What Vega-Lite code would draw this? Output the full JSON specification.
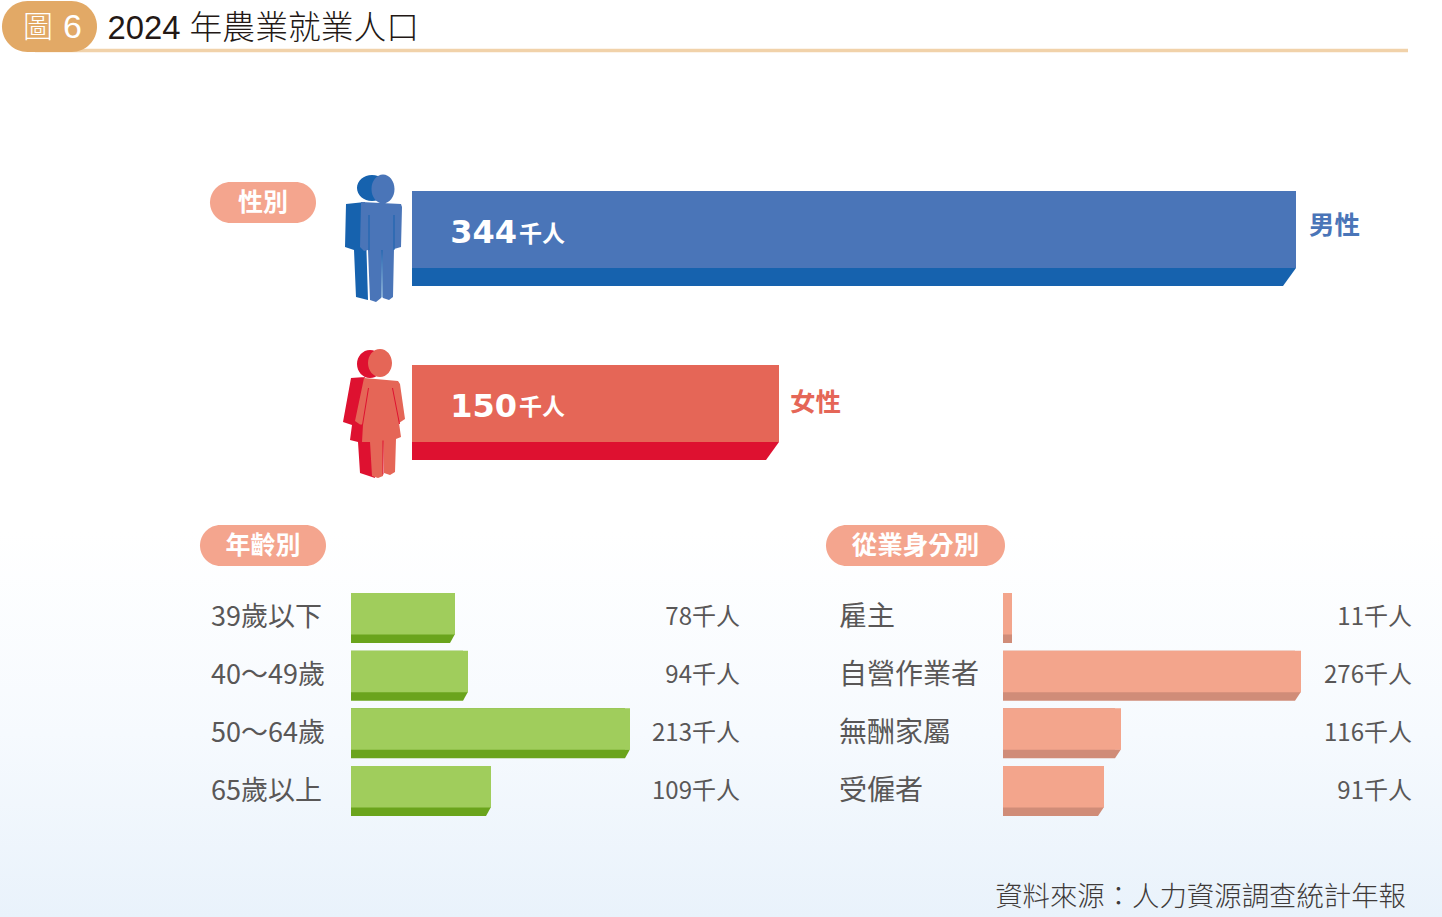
{
"$schema":"https://vega.github.io/schema/vega-lite/v6.json",
"width":1442,"height":917,"padding":0,"autosize":{"type":"none"},"background":"white",
"view":{"stroke":null,"fill":{"gradient":"linear","x1":0,"y1":0,"x2":0,"y2":1,"stops":[{"offset":0,"color":"#ffffff"},{"offset":0.58,"color":"#ffffff"},{"offset":0.8,"color":"#f6fafe"},{"offset":1,"color":"#e9f2fb"}]}},
"config":{"axis":{"disable":true},"text":{"font":"Noto Sans CJK TC","baseline":"middle"}},
"datasets":{
"gender":[{"category":"男性","value":344,"unit":"千人","heading":"性別"},{"category":"女性","value":150,"unit":"千人"}],
"age":[{"category":"39歲以下","value":78,"label":"78千人","heading":"年齡別"},{"category":"40～49歲","value":94,"label":"94千人"},{"category":"50～64歲","value":213,"label":"213千人"},{"category":"65歲以上","value":109,"label":"109千人"}],
"status":[{"category":"雇主","value":11,"label":"11千人","heading":"從業身分別"},{"category":"自營作業者","value":276,"label":"276千人"},{"category":"無酬家屬","value":116,"label":"116千人"},{"category":"受僱者","value":91,"label":"91千人"}]
},
"resolve":{"scale":{"x":"independent","y":"independent"}},
"layer":[
{"data":{"values":[{"title":"2024 年農業就業人口","tag":"圖","no":"6","source":"資料來源\uFF1A人力資源調查統計年報"}]},
 "encoding":{"x":{"datum":0,"type":"quantitative","scale":{"domain":[0,1],"range":[0,1442]}},"y":{"datum":0,"type":"quantitative","scale":{"domain":[0,1],"range":[0,917]}}},
 "layer":[
  {"mark":{"type":"rule","color":"#f1d2aa","strokeWidth":3.5,"xOffset":35,"x2Offset":-34,"yOffset":50.5},"encoding":{"x2":{"datum":1}}},
  {"mark":{"type":"point","filled":true,"opacity":1,"size":4,"strokeWidth":0,"color":"#e2a966","shape":"M27.5,1 L71.5,1 A25.5,25.5 0 0 1 71.5,52 L27.5,52 A25.5,25.5 0 0 1 27.5,1 Z"}},
  {"mark":{"type":"text","align":"left","dx":23,"dy":28,"fontSize":30,"fontWeight":300,"color":"#ffffff"},"encoding":{"text":{"field":"tag"}}},
  {"mark":{"type":"text","align":"left","dx":63,"dy":28,"fontSize":34,"font":"Liberation Sans","color":"#ffffff"},"encoding":{"text":{"field":"no"}}},
  {"mark":{"type":"text","align":"left","dx":107.5,"dy":29,"fontSize":32.8,"fontWeight":300,"font":"Liberation Sans, Noto Sans CJK TC","color":"#231815"},"encoding":{"text":{"field":"title"}}},
  {"mark":{"type":"text","align":"right","dx":1406,"dy":898,"fontSize":27.4,"fontWeight":300,"color":"#3e3a39"},"encoding":{"text":{"field":"source"}}}
 ]},
{"data":{"name":"gender"},
 "encoding":{"x":{"field":"value","type":"quantitative","scale":{"domain":[0,150,344],"range":[412,779,1296]}},"y":{"field":"category","type":"nominal","scale":{"domain":["男性","女性"],"range":[191,460],"paddingInner":0.454,"paddingOuter":0}}},
 "layer":[
  {"transform":[{"filter":"datum.category==='男性'"}],"mark":{"type":"bar","color":"#1662ae","xOffset":-13,"x2Offset":0.01},"encoding":{"x2":{"datum":0}}},
  {"transform":[{"filter":"datum.category==='男性'"}],"mark":{"type":"point","filled":true,"opacity":1,"size":4,"strokeWidth":0,"color":"#1662ae","shape":"M0,29.5 L-13,47.5 L-13,29.5 Z"}},
  {"transform":[{"filter":"datum.category==='男性'"}],"mark":{"type":"bar","color":"#4a75b8","height":77,"yOffset":-9}},
  {"transform":[{"filter":"datum.category==='女性'"}],"mark":{"type":"bar","color":"#de1130","xOffset":-13,"x2Offset":0.01},"encoding":{"x2":{"datum":0}}},
  {"transform":[{"filter":"datum.category==='女性'"}],"mark":{"type":"point","filled":true,"opacity":1,"size":4,"strokeWidth":0,"color":"#de1130","shape":"M0,29.5 L-13,47.5 L-13,29.5 Z"}},
  {"transform":[{"filter":"datum.category==='女性'"}],"mark":{"type":"bar","color":"#e56657","height":77,"yOffset":-9}},
  {"mark":{"type":"text","align":"right","dx":105,"dy":-5.5,"fontSize":32,"font":"DejaVu Sans","fontWeight":"bold","color":"#ffffff"},"encoding":{"x":{"datum":0},"text":{"field":"value","type":"quantitative"}}},
  {"mark":{"type":"text","align":"right","dx":153,"dy":-4,"fontSize":23,"fontWeight":"bold","color":"#ffffff"},"encoding":{"x":{"datum":0},"text":{"field":"unit"}}},
  {"transform":[{"filter":"datum.category==='男性'"}],"mark":{"type":"text","align":"left","dx":13,"dy":-12.5,"fontSize":25.5,"fontWeight":"bold","color":"#4a75b8"},"encoding":{"text":{"field":"category"}}},
  {"transform":[{"filter":"datum.category==='女性'"}],"mark":{"type":"text","align":"left","dx":11,"dy":-9.5,"fontSize":25.5,"fontWeight":"bold","color":"#e56657"},"encoding":{"text":{"field":"category"}}},
  {"transform":[{"filter":"datum.category==='男性'"}],"mark":{"type":"point","filled":true,"opacity":1,"size":4,"strokeWidth":0,"color":"#1662ae","shape":"M-55,-50.5 A15,13 0 1 1 -25,-50.5 A15,13 0 1 1 -55,-50.5 Z M-66,-34.5 L-47,-36.5 L-44,61.5 L-56,58.5 L-58,11.5 L-67,8.5 Z"},"encoding":{"x":{"datum":0}}},
  {"transform":[{"filter":"datum.category==='男性'"}],"mark":{"type":"point","filled":true,"opacity":1,"size":4,"strokeWidth":0,"color":"#4a75b8","shape":"M-40.5,-49.5 A11.5,14.5 0 1 1 -17.5,-49.5 A11.5,14.5 0 1 1 -40.5,-49.5 Z M-51,-36.5 L-11,-34.5 L-10,-31.5 L-11,8.5 L-18,10.5 L-19,58.5 L-23,61.5 L-29,59.5 L-30,11.5 L-31,59.5 L-36,63.5 L-42,61.5 L-44,11.5 L-48,12.5 L-52,8.5 Z"},"encoding":{"x":{"datum":0}}},
  {"transform":[{"filter":"datum.category==='男性'"}],"mark":{"type":"point","filled":true,"opacity":1,"size":4,"strokeWidth":0,"color":"#1662ae","shape":"M-43.5,-23.5 L-42.5,-23.5 L-42.5,11.5 L-43.5,11.5 Z M-18.5,-23.5 L-17.5,-23.5 L-17.5,11.5 L-18.5,11.5 Z M-30.5,11.5 L-29.5,11.5 L-29.5,59 L-30.5,59 Z"},"encoding":{"x":{"datum":0}}},
  {"transform":[{"filter":"datum.category==='女性'"}],"mark":{"type":"point","filled":true,"opacity":1,"size":4,"strokeWidth":0,"color":"#de1130","shape":"M-55,-48.5 A13,14 0 1 1 -29,-48.5 A13,14 0 1 1 -55,-48.5 Z M-61,-34.5 L-47,-35.5 L-37,65.5 L-52,60.5 L-54,29.5 L-62,27.5 L-60,12.5 L-69,9.5 Z"},"encoding":{"x":{"datum":0}}},
  {"transform":[{"filter":"datum.category==='女性'"}],"mark":{"type":"point","filled":true,"opacity":1,"size":4,"strokeWidth":0,"color":"#e56657","shape":"M-44,-49.5 A12,14 0 1 1 -20,-49.5 A12,14 0 1 1 -44,-49.5 Z M-48,-34.5 L-14,-31.5 L-12,-28.5 L-7,6.5 L-13,10.5 L-11,24.5 L-16,26.5 L-17,59.5 L-22,62.5 L-28,60.5 L-29,28.5 L-29,63.5 L-34,65.5 L-40,63.5 L-42,29.5 L-50,29.5 L-49,12 L-52,12 L-57,8.5 Z"},"encoding":{"x":{"datum":0}}},
  {"transform":[{"filter":"datum.category==='女性'"}],"mark":{"type":"point","filled":true,"opacity":1,"size":4,"strokeWidth":0,"color":"#de1130","shape":"M-44,-24.5 L-43,-24.5 L-49,12.5 L-50,12.5 Z M-20,-24.5 L-19,-24.5 L-12,11.5 L-13,11.5 Z M-29.5,28 L-28.5,28 L-28.5,62 L-29.5,62 Z"},"encoding":{"x":{"datum":0}}},
  {"transform":[{"filter":"isValid(datum.heading)"}],"mark":{"type":"point","filled":true,"opacity":1,"size":4,"strokeWidth":0,"color":"#f4a58e","shape":"M-181.5,-56.5 L-116.5,-56.5 A20.5,20.5 0 0 1 -116.5,-15.5 L-181.5,-15.5 A20.5,20.5 0 0 1 -181.5,-56.5 Z"},"encoding":{"x":{"datum":0}}},
  {"transform":[{"filter":"isValid(datum.heading)"}],"mark":{"type":"text","align":"center","dx":-149,"dy":-35.5,"fontSize":25,"fontWeight":"bold","color":"#ffffff"},"encoding":{"x":{"datum":0},"text":{"field":"heading"}}}
 ]},
{"data":{"name":"age"},
 "encoding":{"x":{"field":"value","type":"quantitative","scale":{"domain":[0,78,94,109,213],"range":[351,455,468,491,630]}},"y":{"field":"category","type":"nominal","scale":{"domain":["39歲以下","40～49歲","50～64歲","65歲以上"],"range":[593,816],"paddingInner":0.133,"paddingOuter":0}}},
 "layer":[
  {"mark":{"type":"bar","color":"#6aa41c","xOffset":-5,"x2Offset":0.01},"encoding":{"x2":{"datum":0}}},
  {"mark":{"type":"point","filled":true,"opacity":1,"size":4,"strokeWidth":0,"color":"#6aa41c","shape":"M0,16 L-5,25 L-5,16 Z"}},
  {"mark":{"type":"bar","color":"#a0cd5c","height":41.5,"yOffset":-4.25}},
  {"mark":{"type":"text","align":"left","dx":-140,"dy":0.5,"fontSize":27,"color":"#595757"},"encoding":{"x":{"datum":0},"text":{"field":"category"}}},
  {"mark":{"type":"text","align":"right","dx":389,"dy":0.5,"fontSize":24,"color":"#595757"},"encoding":{"x":{"datum":0},"text":{"field":"label"}}},
  {"transform":[{"filter":"isValid(datum.heading)"}],"mark":{"type":"point","filled":true,"opacity":1,"size":4,"strokeWidth":0,"color":"#f4a58e","shape":"M-130.5,-93 L-45.5,-93 A20.5,20.5 0 0 1 -45.5,-52 L-130.5,-52 A20.5,20.5 0 0 1 -130.5,-93 Z"},"encoding":{"x":{"datum":0}}},
  {"transform":[{"filter":"isValid(datum.heading)"}],"mark":{"type":"text","align":"center","dx":-88,"dy":-71.5,"fontSize":25,"fontWeight":"bold","color":"#ffffff"},"encoding":{"x":{"datum":0},"text":{"field":"heading"}}}
 ]},
{"data":{"name":"status"},
 "encoding":{"x":{"field":"value","type":"quantitative","scale":{"domain":[0,11,91,116,276],"range":[1003,1012,1104,1121,1301]}},"y":{"field":"category","type":"nominal","scale":{"domain":["雇主","自營作業者","無酬家屬","受僱者"],"range":[593,816],"paddingInner":0.133,"paddingOuter":0}}},
 "layer":[
  {"transform":[{"filter":"datum.value>11"}],"mark":{"type":"bar","color":"#d08c78","xOffset":-6,"x2Offset":0.01},"encoding":{"x2":{"datum":0}}},
  {"transform":[{"filter":"datum.value>11"}],"mark":{"type":"point","filled":true,"opacity":1,"size":4,"strokeWidth":0,"color":"#d08c78","shape":"M0,16 L-6,25 L-6,16 Z"}},
  {"transform":[{"filter":"datum.value<=11"}],"mark":{"type":"bar","color":"#d08c78"}},
  {"mark":{"type":"bar","color":"#f3a58c","height":41.5,"yOffset":-4.25}},
  {"mark":{"type":"text","align":"left","dx":-164,"dy":0.5,"fontSize":28,"color":"#595757"},"encoding":{"x":{"datum":0},"text":{"field":"category"}}},
  {"mark":{"type":"text","align":"right","dx":409,"dy":0.5,"fontSize":24,"color":"#595757"},"encoding":{"x":{"datum":0},"text":{"field":"label"}}},
  {"transform":[{"filter":"isValid(datum.heading)"}],"mark":{"type":"point","filled":true,"opacity":1,"size":4,"strokeWidth":0,"color":"#f4a58e","shape":"M-156.5,-93 L-18.5,-93 A20.5,20.5 0 0 1 -18.5,-52 L-156.5,-52 A20.5,20.5 0 0 1 -156.5,-93 Z"},"encoding":{"x":{"datum":0}}},
  {"transform":[{"filter":"isValid(datum.heading)"}],"mark":{"type":"text","align":"center","dx":-87.5,"dy":-71.5,"fontSize":25.5,"fontWeight":"bold","color":"#ffffff"},"encoding":{"x":{"datum":0},"text":{"field":"heading"}}}
 ]}
]}
